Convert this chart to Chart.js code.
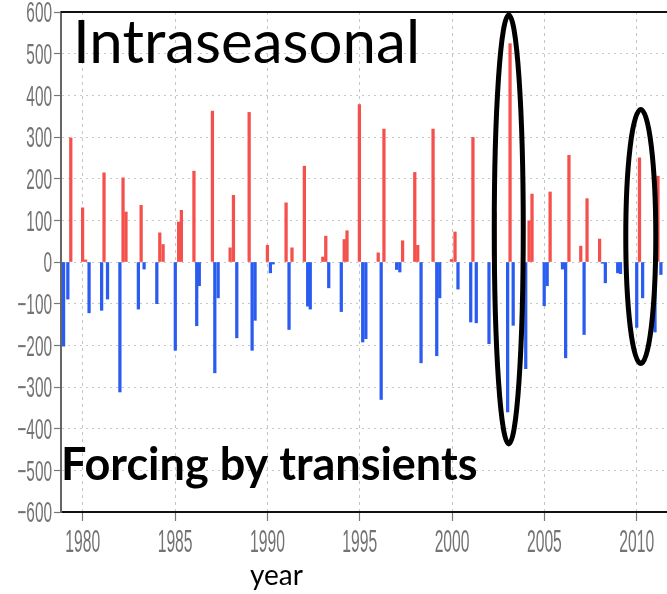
<!DOCTYPE html>
<html>
<head>
<meta charset="utf-8">
<script src="https://cdn.jsdelivr.net/npm/chart.js@4.4.1/dist/chart.umd.min.js"></script>
<style>
  html, body { margin: 0; padding: 0; background: #fff; }
  #wrap { position: relative; width: 667px; height: 594px; }
</style>
</head>
<body>
<div id="wrap"><canvas id="chartCanvas"></canvas></div>
<script>
// bar positions (decimal year) and values
const barYears = [
  1978.96, 1979.19, 1979.35, 1979.99, 1980.15, 1980.34,
  1981.02, 1981.15, 1981.34, 1982.01, 1982.18, 1982.34,
  1983.01, 1983.16, 1983.32, 1984.01, 1984.17, 1984.35,
  1985.01, 1985.19, 1985.34, 1986.02, 1986.17, 1986.31,
  1987.02, 1987.15, 1987.33, 1987.98, 1988.16, 1988.34,
  1989.01, 1989.17, 1989.33, 1990.00, 1990.16, 1990.31,
  1991.01, 1991.17, 1991.33, 1992.00, 1992.18, 1992.32,
  1993.00, 1993.16, 1993.32, 1994.00, 1994.16, 1994.31,
  1994.98, 1995.16, 1995.33, 1996.00, 1996.16, 1996.31,
  1997.00, 1997.17, 1997.32, 1997.98, 1998.14, 1998.32,
  1998.97, 1999.17, 1999.33, 1999.97, 2000.16, 2000.32,
  2001.01, 2001.13, 2001.31, 2002.00, 2002.33,
  2003.01, 2003.14, 2003.31, 2003.99, 2004.17, 2004.33,
  2004.99, 2005.15, 2005.31, 2005.98, 2006.15, 2006.33,
  2006.97, 2007.15, 2007.31, 2007.99, 2008.14, 2008.30,
  2008.97, 2009.12, 2010.00, 2010.15, 2010.32,
  2010.99, 2011.15, 2011.31
];
const barValues = [
  -202, -89, 298, 130, 5, -122,
  -116, 214, -89, -312, 202, 120,
  -113, 136, -17, -100, 70, 42,
  -212, 96, 124, 218, -153, -57,
  362, -266, -86, 34, 160, -182,
  359, -212, -140, 40, -26, -5,
  142, -162, 34, 230, -106, -113,
  12, 62, -62, -119, 54, 75,
  378, -192, -184, 22, -330, 319,
  -18, -24, 51, 215, 40, -242,
  319, -225, -86, 6, 72, -65,
  -144, 299, -146, -196, 119,
  -360, 524, -152, -256, 99, 163,
  -105, -57, 168, -17, -230, 256,
  38, -174, 152, 55, -3, -50,
  -26, -28, -157, 250, -86,
  -168, 206, -30
];
const xTickYears = [1980, 1985, 1990, 1995, 2000, 2005, 2010];
const yTickValues = [600, 500, 400, 300, 200, 100, 0, -100, -200, -300, -400, -500, -600];

const RED = '#f4504c';
const BLUE = '#2b5cf0';

// squeezed axis labels, annotation text and the two rings
const overlayPlugin = {
  id: 'overlay',
  afterDraw(chart) {
    const ctx = chart.ctx;
    const xs = chart.scales.x;
    const ys = chart.scales.y;
    const area = chart.chartArea;
    ctx.save();

    // top frame line
    ctx.strokeStyle = '#111';
    ctx.lineWidth = 2;
    ctx.beginPath();
    ctx.moveTo(area.left, area.top);
    ctx.lineTo(area.right, area.top);
    ctx.stroke();

    ctx.fillStyle = '#737373';
    ctx.textBaseline = 'alphabetic';
    ys.ticks.forEach(t => {
      const y = ys.getPixelForValue(t.value);
      const label = t.value < 0 ? '\u2212' + Math.abs(t.value) : String(t.value);
      ctx.save();
      ctx.translate(52, y + 10.4);
      ctx.scale(0.53, 1);
      ctx.font = '29px "Liberation Sans"';
      ctx.textAlign = 'right';
      ctx.fillText(label, 0, 0);
      ctx.restore();
    });
    xs.ticks.forEach(t => {
      const x = xs.getPixelForValue(t.value);
      ctx.save();
      ctx.translate(x, 551.5);
      ctx.scale(0.49, 1);
      ctx.font = '32px "Liberation Sans"';
      ctx.textAlign = 'center';
      ctx.fillText(String(t.value), 0, 0);
      ctx.restore();
    });

    // rings around 2003 and 2010
    const rings = [
      { year: 2003.07, value: 78, rx: 14.5, ry: 214.5 },
      { year: 2010.22, value: 61, rx: 15, ry: 127 }
    ];
    ctx.strokeStyle = '#000';
    ctx.lineWidth = 5;
    rings.forEach(r => {
      ctx.beginPath();
      ctx.ellipse(xs.getPixelForValue(r.year), ys.getPixelForValue(r.value), r.rx, r.ry, 0, 0, Math.PI * 2);
      ctx.stroke();
    });

    ctx.fillStyle = '#000';
    ctx.textAlign = 'left';
    ctx.font = '60px Lato';
    ctx.fillText('Intraseasonal', 73, 63);
    ctx.font = 'bold 45px Lato';
    ctx.fillText('Forcing by transients', 61, 480);
    ctx.font = '28px Lato';
    ctx.fillText('year', 250, 585);
    ctx.restore();
  }
};

const ctx = document.getElementById('chartCanvas').getContext('2d');
const myChart = new Chart(ctx, {
  type: 'bar',
  data: {
    datasets: [{
      data: barYears.map((x, i) => ({ x: x, y: barValues[i] })),
      backgroundColor: c => (c.raw && c.raw.y >= 0 ? RED : BLUE),
      borderWidth: 0,
      barThickness: 2.6
    }]
  },
  options: {
    responsive: true,
    maintainAspectRatio: false,
    animation: false,
    layout: { padding: { top: 12, left: 0, right: 0, bottom: 0 } },
    plugins: {
      legend: { display: false },
      tooltip: { enabled: false }
    },
    scales: {
      x: {
        type: 'linear',
        offset: false,
        min: 1978.82,
        max: 2011.64,
        afterBuildTicks: s => { s.ticks = xTickYears.map(v => ({ value: v })); },
        afterFit: s => { s.height = 82; },
        ticks: { display: false },
        grid: { offset: false, color: '#c4c4c4', lineWidth: 1, tickLength: 9, tickColor: '#777', tickWidth: 1.2 },
        border: { color: '#111', width: 2, dash: [3, 4] }
      },
      y: {
        min: -600,
        max: 600,
        afterBuildTicks: s => { s.ticks = yTickValues.map(v => ({ value: v })); },
        afterFit: s => { s.width = 61; },
        ticks: { display: false },
        grid: { color: '#c8c8c8', lineWidth: 1, tickLength: 7, tickColor: '#777', tickWidth: 1.2 },
        border: { color: '#666', width: 2, dash: [2, 4] }
      }
    }
  },
  plugins: [overlayPlugin]
});
</script>
</body>
</html>
